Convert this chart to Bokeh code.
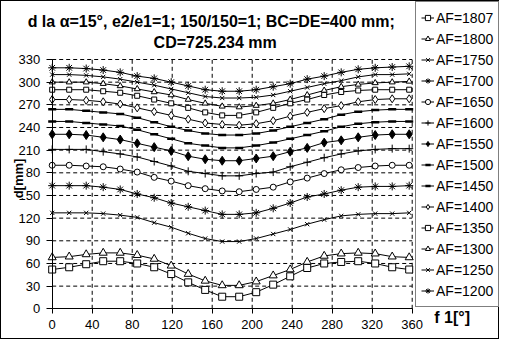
from bokeh.plotting import figure
from bokeh.models import Range1d, FixedTicker, Legend, LegendItem, Label
from bokeh.embed import file_html
from bokeh.resources import INLINE
import math

# ---- data ----
phi = [0, 17, 34, 51, 68, 85, 102, 119, 136, 153, 170,
       187, 204, 221, 238, 255, 272, 289, 306, 323, 340, 357]

af1807 = [52, 55, 59, 63, 63, 60, 55, 46, 35, 25, 16, 16, 22, 32, 43, 54, 60, 62, 63, 60, 55, 52]
af1800 = [68, 69, 72, 74, 74, 71, 66, 57, 46, 37, 31, 31, 36, 44, 52, 62, 70, 73, 74, 73, 69, 68]
af1750 = [127, 127, 127, 126, 124, 121, 114, 108, 100, 93, 89, 89, 93, 99, 105, 112, 118, 123, 125, 126, 126, 127]
af1700 = [163, 163, 163, 161, 158, 152, 147, 140, 135, 130, 125, 125, 127, 133, 140, 148, 152, 157, 161, 162, 162, 163]
af1650 = [190, 190, 189, 188, 185, 181, 174, 169, 163, 159, 156, 155, 158, 161, 168, 173, 179, 184, 187, 189, 190, 190]
af1600 = [211, 211, 211, 208, 205, 201, 195, 189, 182, 179, 176, 176, 179, 181, 188, 194, 200, 205, 209, 211, 212, 212]
af1550 = [231, 231, 230, 227, 224, 219, 214, 209, 202, 198, 196, 196, 199, 202, 208, 213, 220, 223, 227, 230, 231, 231]
af1500 = [248, 248, 246, 244, 242, 237, 231, 225, 219, 216, 213, 213, 216, 220, 225, 230, 235, 241, 245, 247, 248, 248]
af1450 = [264, 264, 262, 260, 258, 253, 247, 241, 236, 232, 230, 230, 232, 236, 241, 246, 251, 257, 261, 263, 264, 264]
af1400 = [277, 277, 276, 274, 271, 266, 261, 256, 251, 246, 244, 243, 245, 249, 255, 260, 265, 269, 274, 277, 278, 278]
af1350 = [290, 290, 290, 288, 286, 282, 277, 272, 266, 260, 256, 256, 260, 266, 272, 277, 283, 287, 289, 290, 290, 290]
af1300 = [300, 300, 300, 298, 295, 291, 287, 283, 277, 272, 268, 267, 269, 272, 277, 283, 289, 294, 297, 299, 300, 301]
af1250 = [310, 310, 309, 307, 304, 300, 296, 291, 286, 281, 279, 279, 280, 283, 288, 293, 298, 302, 307, 310, 310, 311]
af1200 = [319, 319, 318, 316, 313, 308, 305, 300, 295, 290, 288, 288, 290, 294, 298, 304, 308, 313, 317, 319, 320, 321]

series_names = ["AF=1807", "AF=1800", "AF=1750", "AF=1700", "AF=1650", "AF=1600", "AF=1550",
                "AF=1500", "AF=1450", "AF=1400", "AF=1350", "AF=1300", "AF=1250", "AF=1200"]
series_values = [af1807, af1800, af1750, af1700, af1650, af1600, af1550,
                 af1500, af1450, af1400, af1350, af1300, af1250, af1200]

x_ticks = [0, 40, 80, 120, 160, 200, 240, 280, 320, 360]
y_ticks = [0, 30, 60, 90, 120, 150, 180, 210, 240, 270, 300, 330]

title_line1 = "d la \u03b1=15\u00b0, e2/e1=1; 150/150=1; BC=DE=400 mm;"
title_line2 = "CD=725.234 mm"
x_title = "f 1[\u00b0]"
y_title = "d[mm]"

# ---- marker styles: (marker, size, fill, line_width) ----
styles = [
    ("square", 7, "white", 1),
    ("triangle", 8, "white", 1),
    ("x", 6, "white", 1),
    ("asterisk", 8, "white", 1),
    ("circle", 6, "white", 1),
    ("cross", 8, "white", 1),
    ("diamond", 9, "black", 1),
    ("dash", 8, "black", 2.5),
    ("dash", 8, "black", 2.5),
    ("diamond", 8, "white", 1),
    ("square", 5, "white", 1),
    ("triangle", 6, "white", 1),
    ("x", 6, "white", 1),
    ("asterisk", 8, "white", 1),
]

FONT = "Liberation Sans"

# canvas 499x339; data region: x 0..360 -> px 50.7..410.7, y 0..330 -> px 307.3..58
W, H = 499, 339
X0_PX, Y0_PX, Y330_PX = 50.7, 307.3, 58.0
px_per_x = 1.0
px_per_y = (Y0_PX - Y330_PX) / 330.0
x_lo = -X0_PX / px_per_x
x_hi = x_lo + W / px_per_x
y_lo = -(H - Y0_PX) / px_per_y
y_hi = y_lo + H / px_per_y

p = figure(width=W, height=H, output_backend="svg", toolbar_location=None,
           x_range=Range1d(x_lo, x_hi), y_range=Range1d(y_lo, y_hi),
           min_border=0, min_border_left=0, min_border_right=0,
           min_border_top=0, min_border_bottom=0, title=None)
p.styles = {"border": "1px solid black"}
p.outline_line_color = None
p.background_fill_color = "white"
p.border_fill_color = "white"
p.xgrid.visible = False
p.ygrid.visible = False

# dashed gridlines limited to the data region (drawn under the series)
gx = [t for t in x_ticks if t != x_ticks[0]]
gy = [t for t in y_ticks if t != y_ticks[0]]
p.segment(x0=gx, x1=gx, y0=[y_ticks[0]] * len(gx), y1=[y_ticks[-1]] * len(gx),
          line_color="black", line_width=1, line_dash="4 3")
p.segment(x0=[x_ticks[0]] * len(gy), x1=[x_ticks[-1]] * len(gy), y0=gy, y1=gy,
          line_color="black", line_width=1, line_dash="4 3")

items = []
for name, vals, (mk, sz, fill, lw) in zip(series_names, series_values, styles):
    r1 = p.line(phi, vals, line_color="black", line_width=1)
    r2 = p.scatter(phi, vals, marker=mk, size=sz, line_color="black",
                   fill_color=fill, line_width=lw)
    items.append(LegendItem(label=name, renderers=[r1, r2]))

# axes drawn at the data origin
for ax in (p.xaxis[0], p.yaxis[0]):
    ax.fixed_location = 0
    ax.axis_line_color = "black"
    ax.axis_line_width = 1
    ax.major_tick_line_color = "black"
    ax.minor_tick_line_color = None
    ax.major_tick_in = 0
    ax.major_label_text_font = FONT
    ax.major_label_text_font_size = "13px"
    ax.major_label_text_color = "black"
p.xaxis[0].bounds = (x_ticks[0], x_ticks[-1])
p.yaxis[0].bounds = (y_ticks[0], y_ticks[-1])
p.xaxis[0].ticker = FixedTicker(ticks=x_ticks)
p.yaxis[0].ticker = FixedTicker(ticks=y_ticks)
p.xaxis[0].major_tick_out = 5
p.yaxis[0].major_tick_out = 6
p.xaxis[0].major_label_standoff = 6
p.yaxis[0].major_label_standoff = 6

# legend (location relative to the frame's bottom-left, which is the canvas)
legend = Legend(items=items, location=(414, 33), orientation="vertical",
                border_line_color="black", border_line_width=1,
                background_fill_color="white", background_fill_alpha=1,
                label_text_font=FONT, label_text_font_size="14px",
                label_text_color="black",
                glyph_width=13, glyph_height=21, label_height=21, label_width=57,
                label_standoff=2, spacing=0, padding=5, margin=0)
p.add_layout(legend, "center")

# titles
p.add_layout(Label(x=159, y=380.3, text=title_line1, text_align="center",
                   text_baseline="middle", text_font=FONT,
                   text_font_size="16px", text_font_style="bold", text_color="black"))
p.add_layout(Label(x=163, y=352.9, text=title_line2, text_align="center",
                   text_baseline="middle", text_font=FONT,
                   text_font_size="16px", text_font_style="bold", text_color="black"))
p.add_layout(Label(x=400, y=-12, text=x_title, text_align="center",
                   text_baseline="middle", text_font=FONT,
                   text_font_size="16px", text_font_style="bold", text_color="black"))
p.add_layout(Label(x=-34, y=172.5, text=y_title, text_align="center",
                   text_baseline="middle", angle=math.pi / 2, text_font=FONT,
                   text_font_size="13px", text_font_style="bold", text_color="black",
                   background_fill_color="white"))

open("out.html", "w").write(file_html(p, INLINE))
